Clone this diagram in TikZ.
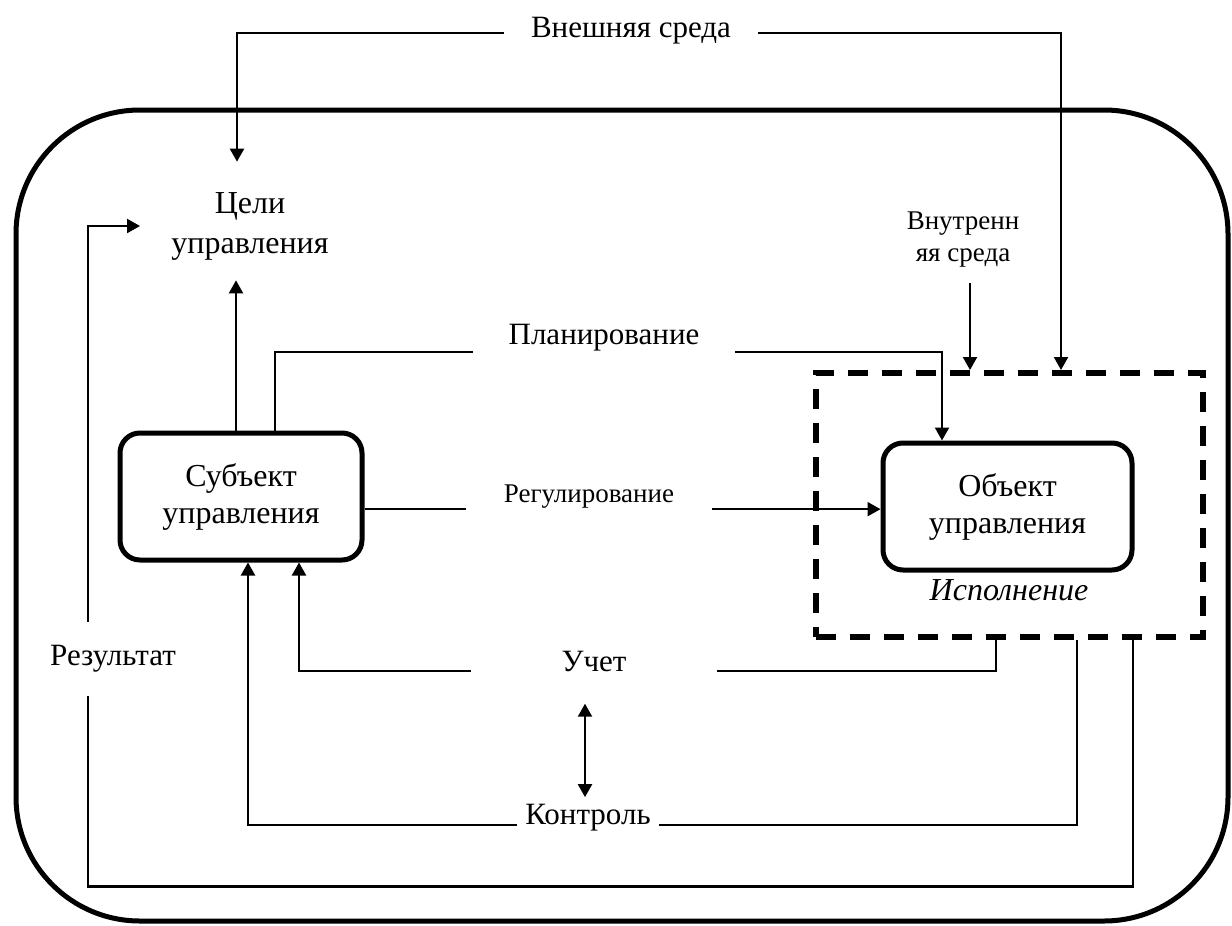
\documentclass[tikz,border=0pt]{standalone}
\usepackage{fontspec}
\setmainfont{Liberation Serif}
\usetikzlibrary{arrows.meta}
\tikzset{
    >={Triangle[length=6.5pt, width=7pt]}, % filled arrow heads
    line/.style={line width=1.1pt}, % thin connector lines
    box/.style={draw, line width=2.5pt, rounded corners=10pt, align=center, minimum width=121pt, minimum height=63.5pt, font=\fontsize{16}{18.5}\selectfont}, % the two main blocks
    txt/.style={inner sep=0pt, align=center, font=\fontsize{15.5}{19}\selectfont}, % plain labels
    smalltxt/.style={txt, font=\fontsize{13.5}{16}\selectfont}, % smaller labels
    zone/.style={draw, line width=3pt, dash pattern=on 10pt off 7pt}, % dashed area round the object
}

\begin{document}
\begin{tikzpicture}[x=0.5pt, y=-0.5pt]
    \useasboundingbox (0,0) rectangle (1232,926);
    \draw[line width=2.5pt, rounded corners=62pt] (16,110) rectangle (1228,921);

    \node[txt, inner xsep=13.5pt] (ext) at (631,31) {Внешняя среда};
    \node[txt, font=\fontsize{16}{20}\selectfont, inner xsep=15.5pt, inner ysep=15pt] (goals) at (250,226) {Цели\\управления};
    \node[box] (subj) at (241,496.5) {Субъект\\управления};
    \node[zone, minimum width=193.5pt, minimum height=132pt] (exec) at (1009.5,505) {};
    \node[box, minimum width=124.5pt] (obj) at (1007.5,506.5) {Объект\\управления};
    \node[txt, font=\fontsize{16}{19}\selectfont\itshape] (execl) at (1009,590) {Исполнение};
    \node[smalltxt, inner ysep=7.5pt] (inner) at (963,240) {Внутренн\\яя среда};
    \node[txt, inner xsep=17.5pt] (plan) at (604,338) {Планирование};
    \node[smalltxt, inner xsep=18.5pt] (reg) at (589,497) {Регулирование};
    \node[txt, inner xsep=45pt, inner ysep=16pt] (uchet) at (594,661) {Учет};
    \node[txt, inner xsep=4pt, inner ysep=3.5pt] (control) at (588,818) {Контроль};
    \node[txt, inner ysep=11.75pt] (result) at (113,659) {Результат};

    % environment
    \draw[line, ->] (ext.mid west) -| ([xshift=-6.5pt]goals.north);
    \draw[line, ->] (ext.mid east) -| ([xshift=25.75pt]exec.north);
    \draw[line, ->] ([xshift=3.5pt]inner.south) -- ([xshift=-19.75pt]exec.north);
    % subject to object
    \draw[line, ->] ([xshift=-2.5pt]subj.north) -- ([xshift=-7pt, yshift=5pt]goals.south);
    \draw[line] ([xshift=17pt]subj.north) |- (plan.south west);
    \draw[line, ->] (plan.south east) -| ([xshift=-32.75pt]obj.north);
    \draw[line] (subj.east |- reg.south west) -- (reg.south west);
    \draw[line, ->] (reg.south east) -- (obj.west |- reg.south east);
    % feedback
    \draw[line, ->] (uchet.base west) -| ([xshift=29pt]subj.south);
    \draw[line] (uchet.base east) -| ([xshift=-6.75pt]exec.south);
    \draw[line, <->] ([xshift=-4.5pt]uchet.south) -- ([xshift=-1.5pt]control.north);
    \draw[line, ->] (control.base west) -| ([xshift=3.5pt]subj.south);
    \draw[line] (control.base east) -| ([xshift=33.75pt]exec.south);
    \draw[line] ([xshift=61.75pt]exec.south) |- ([xshift=-12.5pt, yshift=-95pt]result.south) -- ([xshift=-12.5pt]result.south);
    \draw[line, ->] ([xshift=-12.5pt]result.north) |- (goals.west);
\end{tikzpicture}
\end{document}
